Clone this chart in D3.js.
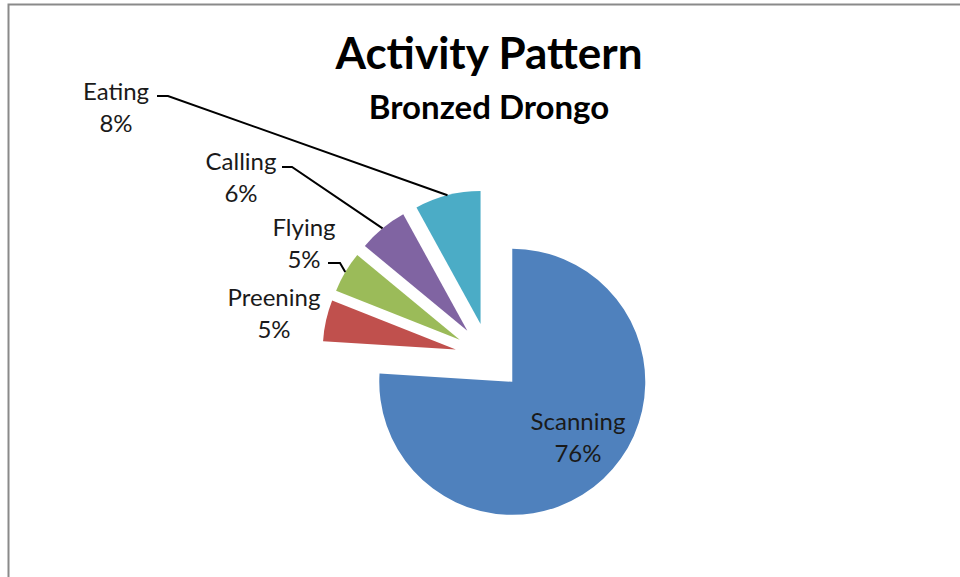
<!DOCTYPE html>
<html>
<head>
<meta charset="utf-8">
<script src="https://cdn.jsdelivr.net/npm/d3@7"></script>
<style>
  html, body { margin: 0; padding: 0; background: #fff; }
  svg { display: block; }
  text { font-family: Lato, "Open Sans", sans-serif; fill: #1a1a1a; }
</style>
</head>
<body>
<svg id="chart" width="960" height="577"></svg>
<script>
// Activity budget of the Bronzed Drongo (percent of observed time)
const categories = ["Scanning", "Preening", "Flying", "Calling", "Eating"];
const values = [76, 5, 5, 6, 8];
const colors = ["#4F81BD", "#C0504D", "#9BBB59", "#8064A2", "#4BACC6"];
const title = "Activity Pattern";
const subtitle = "Bronzed Drongo";

// Layout
const W = 960, H = 577;
const cx = 489, cy = 357;      // pie centre before exploding
const radius = 133;
const explode = 34;            // every slice is pulled out by the same distance

// Where each data label sits (text centre x, first-line baseline y)
// and where its leader line leaves the label.
const labelLayout = {
  Scanning: { x: 578, y: 430, inside: true },
  Preening: { x: 274, y: 306 },
  Flying:   { x: 304, y: 236, leader: [[328, 263], [340, 263]] },
  Calling:  { x: 241, y: 170, leader: [[282, 167], [292, 167]] },
  Eating:   { x: 116, y: 100, leader: [[157, 96], [168, 96]] }
};
const lineGap = 32;

const svg = d3.select("#chart");

// chart-area frame
svg.append("path")
  .attr("d", `M8.5,${H} L8.5,4.5 L${W},4.5`)
  .attr("fill", "none")
  .attr("stroke", "#8a8a8a")
  .attr("stroke-width", 2);

// titles
svg.append("text")
  .attr("x", cx).attr("y", 69)
  .attr("text-anchor", "middle")
  .style("font-weight", "bold")
  .style("font-size", "44px")
  .style("fill", "#000")
  .text(title);

svg.append("text")
  .attr("x", cx).attr("y", 119)
  .attr("text-anchor", "middle")
  .style("font-weight", "bold")
  .style("font-size", "33px")
  .style("fill", "#000")
  .text(subtitle);

const total = d3.sum(values);
const data = categories.map((c, i) => ({ category: c, value: values[i], color: colors[i] }));

const pie = d3.pie()
  .sort(null)
  .value(d => d.value)
  .startAngle(0)
  .endAngle(2 * Math.PI);

const arc = d3.arc().innerRadius(0).outerRadius(radius);

const slices = pie(data).map(s => {
  const mid = (s.startAngle + s.endAngle) / 2;
  const ox = cx + explode * Math.sin(mid);
  const oy = cy - explode * Math.cos(mid);
  return Object.assign(s, {
    mid, ox, oy,
    edgeX: ox + radius * Math.sin(mid),
    edgeY: oy - radius * Math.cos(mid)
  });
});

const g = svg.append("g");

g.selectAll("path.slice")
  .data(slices)
  .join("path")
  .attr("class", "slice")
  .attr("transform", d => `translate(${d.ox},${d.oy})`)
  .attr("d", arc)
  .attr("fill", d => d.data.color);

// leader lines
const line = d3.line();
g.selectAll("path.leader")
  .data(slices.filter(d => labelLayout[d.data.category].leader))
  .join("path")
  .attr("class", "leader")
  .attr("d", d => line([...labelLayout[d.data.category].leader, [d.edgeX, d.edgeY]]))
  .attr("fill", "none")
  .attr("stroke", "#000")
  .attr("stroke-width", 2);

// data labels: category name and percentage
const pct = v => Math.round(v / total * 100) + "%";
const labels = g.selectAll("text.label")
  .data(slices)
  .join("text")
  .attr("class", "label")
  .attr("text-anchor", "middle")
  .style("font-size", "24px");

labels.append("tspan")
  .attr("x", d => labelLayout[d.data.category].x)
  .attr("y", d => labelLayout[d.data.category].y)
  .text(d => d.data.category);

labels.append("tspan")
  .attr("x", d => labelLayout[d.data.category].x)
  .attr("y", d => labelLayout[d.data.category].y + lineGap)
  .text(d => pct(d.data.value));
</script>
</body>
</html>
